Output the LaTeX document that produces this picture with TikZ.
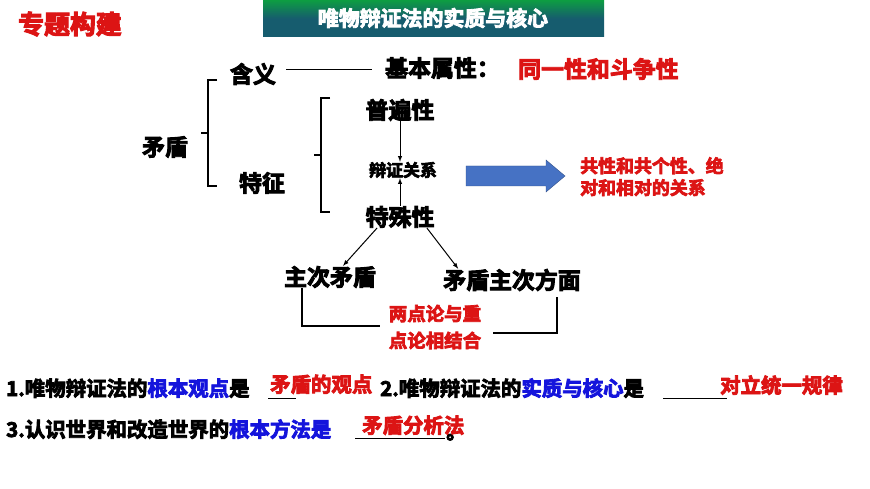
\documentclass[tikz,border=0pt]{standalone}
\usepackage{fontspec}
\setmainfont{Noto Sans CJK SC Bold}[FakeBold=4]
\definecolor{myred}{RGB}{220,20,20}
\definecolor{myblue}{RGB}{20,20,220}
\definecolor{banner}{RGB}{22,92,110}
\definecolor{blk}{RGB}{70,114,196}
\begin{document}
\begin{tikzpicture}[x=1bp,y=-1bp,
  lbl/.style={inner sep=0pt,font=\fontsize{23}{23}\selectfont},
  sml/.style={inner sep=0pt,font=\fontsize{17}{17}\selectfont},
  redt/.style={inner sep=0pt,text=myred,font=\fontsize{18}{22}\selectfont,align=left},
  bot/.style={inner sep=0pt,anchor=base west,font=\fontsize{20.5}{20.5}\selectfont},
  ln/.style={line width=1.4pt},
  arr/.style={line width=1pt,-latex}]
\useasboundingbox (0,0) rectangle (870,489);
\fill[white] (0,0) rectangle (870,489);
\node[lbl,text=myred,font=\fontsize{26}{26}\selectfont] (t0) at (70,24) {专题构建};
\shade[top color=banner!60!green, bottom color=banner, middle color=banner] (263,0) rectangle (604,37);
\node[lbl,text=white,font=\fontsize{21}{21}\selectfont] (ban) at (433,18) {唯物辩证法的实质与核心};
\node[lbl] (hy) at (253,74) {含义};
\node[lbl,anchor=west] (jb) at (385,68) {基本属性：};
\node[lbl,anchor=west,text=myred] (ty) at (518,69) {同一性和斗争性};
\coordinate (l1) at (286,70);
\coordinate (l2) at (372,70);
\draw[line width=1pt] (l1) -- (l2);
\node[lbl] (md) at (165,147) {矛盾};
\node[lbl] (tz) at (262,183) {特征};
\draw[ln] (217,80) -- (208,80) -- (208,186) -- (217,186);
\draw[ln] (208,133) -- (201,133);
\draw[ln] (330,98) -- (321,98) -- (321,212) -- (330,212);
\draw[ln] (321,155) -- (314,155);
\node[lbl] (pb) at (400,110) {普遍性};
\node[sml] (bz) at (403,170) {辩证关系};
\node[lbl] (ts) at (400,217) {特殊性};
\draw[arr] (pb.south) -- (bz.north -| pb.south);
\draw[arr] (ts.north) -- (bz.south -| ts.north);
\filldraw[fill=blk,draw=blk!70!black] (466,166) -- (546,166) -- (546,160) -- (565,176) -- (546,192) -- (546,186) -- (466,186) -- cycle;
\node[redt,anchor=north west] (gx) at (580,157) {共性和共个性、绝\\对和相对的关系};
\node[lbl] (zc) at (330,277) {主次矛盾};
\node[lbl] (mz) at (512,280) {矛盾主次方面};
\draw[arr] ([xshift=-23pt]ts.south) -- ([xshift=13pt]zc.north);
\draw[arr] ([xshift=27pt]ts.south) -- ([xshift=-54pt]mz.north);
\node[redt,align=center,font=\fontsize{18.5}{27}\selectfont] (ld) at (435,327) {两点论与重\\点论相结合};
\draw[ln] (302,288) -- (302,326) -- (380,326);
\draw[ln] (493,333) -- (557,333) -- (557,297);
\node[bot] (b1) at (6,396) {1.唯物辩证法的\textcolor{myblue}{根本观点}是};
\node[bot] (b2) at (380,396) {2.唯物辩证法的\textcolor{myblue}{实质与核心}是};
\draw[line width=0.6pt] (268,398) -- (296,398);
\draw[line width=0.6pt] (663,398) -- (727,398);
\node[bot,text=myred] (a1) at (270,392) {矛盾的观点};
\node[bot,text=myred] (a2) at (720,393) {对立统一规律};
\node[bot] (b3) at (6,437) {3.认识世界和改造世界的\textcolor{myblue}{根本方法是}};
\node[bot] (b4) at (446,439) {。};
\draw[line width=0.6pt] (355,438) -- (445,438);
\node[bot,text=myred] (a3) at (362,433) {矛盾分析法};
\end{tikzpicture}
\end{document}
